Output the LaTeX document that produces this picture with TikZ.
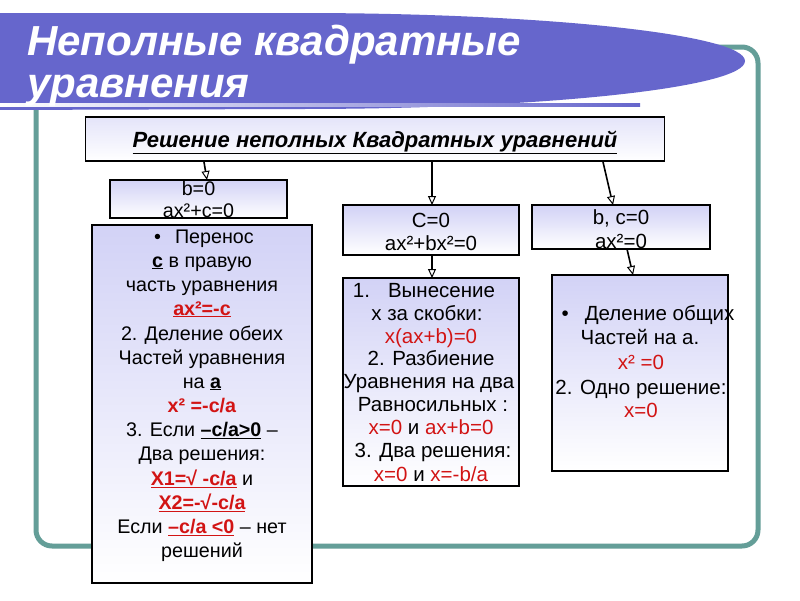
\documentclass[tikz,border=0pt]{standalone}
\usepackage{fontspec}
\setmainfont{Liberation Sans}
\usetikzlibrary{arrows.meta,calc}
\definecolor{ban}{RGB}{102,102,204}
\definecolor{frm}{RGB}{100,158,152}
\definecolor{lav}{RGB}{210,210,246}
\definecolor{rd}{RGB}{210,20,20}
\newcommand{\rb}[1]{{\color{rd}\textbf{#1}}}
\newcommand{\rbu}[1]{{\color{rd}\textbf{\underline{#1}}}}
\newcommand{\rr}[1]{{\color{rd}#1}}
\begin{document}
\begin{tikzpicture}[x=1pt,y=-1pt,
  box/.style={draw=black, line width=1.8pt, top color=lav, bottom color=white, inner sep=0pt, outer sep=0pt},
  tl/.style={anchor=base, inner sep=0pt, font=\fontsize{19.7}{22}\selectfont},
  tm/.style={anchor=base, inner sep=0pt, font=\fontsize{20.5}{22}\selectfont},
  arr/.style={draw=black, line width=1.6pt, -{Triangle[length=9pt,width=8pt,fill=white,line width=1pt]}}]
\useasboundingbox (0,0) rectangle (800,600);
\fill[white] (0,0) rectangle (800,600);
% frame
\draw[frm, line width=5pt, rounded corners=16pt] (36,47) rectangle (758,546);
% banner
\fill[ban] (-5,13) -- (300,13) arc[start angle=-90, end angle=90, x radius=445, y radius=48] -- (-5,110) -- cycle;
\shade[left color=white, right color=ban] (0,103.5) rectangle (640,106);
\node[anchor=base west, inner sep=0pt, text=white, font=\fontsize{42}{44}\selectfont\bfseries\itshape] (t1) at (27,55) {Неполные квадратные};
\node[anchor=base west, inner sep=0pt, text=white, font=\fontsize{42}{44}\selectfont\bfseries\itshape] (t2) at (27,97) {уравнения};
% header
\node[draw=black, line width=1.8pt, top color=lav!60, bottom color=white, inner sep=0pt, minimum width=579pt, minimum height=44pt] (hdr) at (375,139) {};
\node[anchor=base, inner sep=0pt, font=\fontsize{22}{24}\selectfont\bfseries\itshape] (hdrt) at (375,147) {\underline{Решение неполных Квадратных уравнений}};
% boxes
\node[box, minimum width=177pt, minimum height=38pt] (b0) at (198.5,199) {};
\node[box, minimum width=220pt, minimum height=358pt] (bx1) at (202,404) {};
\node[box, minimum width=176pt, minimum height=50pt] (c0) at (431,230) {};
\node[box, minimum width=176pt, minimum height=208pt] (bx2) at (431,382) {};
\node[box, minimum width=178pt, minimum height=44pt] (bc0) at (621,227) {};
\node[box, minimum width=176pt, minimum height=196pt] (bx3) at (640,373) {};
% texts b0
\node[tl] (b0a) at (198.5,195) {b=0};
\node[tl] (b0b) at (198.5,217) {ax²+c=0};
% box1
\node[tl] (p1) at (204,243) {•\hspace{14pt}Перенос};
\node[tl] (p2) at (202,267) {\textbf{\underline{с}} в правую};
\node[tl] (p3) at (202,291) {часть уравнения};
\node[tl] (p4) at (202,315) {\rbu{ax²=-c}};
\node[tl] (p5) at (202,340) {2. Деление обеих};
\node[tl] (p6) at (202,364) {Частей уравнения};
\node[tl] (p7) at (202,388) {на \textbf{\underline{а}}};
\node[tl] (p8) at (202,412) {\rb{x² =-c/a}};
\node[tl] (p9) at (202,436) {3. Если \textbf{\underline{–c/a>0}} –};
\node[tl] (p10) at (202,460) {Два решения:};
\node[tl] (p11) at (202,485) {\rbu{X1=√ -c/a} и};
\node[tl] (p12) at (202,509) {\rbu{X2=-√-c/a}};
\node[tl] (p13) at (202,533) {Если \rbu{–c/a <0} – нет};
\node[tl] (p14) at (202,557) {решений};
% c0
\node[tm] (c0a) at (431,227) {C=0};
\node[tm] (c0b) at (431,250) {ax²+bx²=0};
% box2
\node[tm] (q1) at (424,297) {1.\hspace{18pt}Вынесение};
\node[tm] (q2) at (427,320) {х за скобки:};
\node[tm] (q3) at (431,343) {\rr{x(ax+b)=0}};
\node[tm] (q4) at (431,365) {2. Разбиение};
\node[tm] (q5) at (429,388) {Уравнения на два};
\node[tm] (q6) at (433,411) {Равносильных :};
\node[tm] (q7) at (431,434) {\rr{x=0} и \rr{ax+b=0}};
\node[tm] (q8) at (433,457) {3. Два решения:};
\node[tm] (q9) at (431,481) {\rr{x=0} и \rr{x=-b/a}};
% bc0
\node[tm] (bc0a) at (621,224) {b, c=0};
\node[tm] (bc0b) at (621,248) {ax²=0};
% box3
\node[tm] (r1) at (648,320) {•\hspace{16pt}Деление общих};
\node[tm] (r2) at (640,344) {Частей на а.};
\node[tm] (r3) at (641,369) {\rr{x² =0}};
\node[tm] (r4) at (641,394) {2. Одно решение:};
\node[tm] (r5) at (641,417) {\rr{x=0}};
% borders on top
\foreach \n in {b0,bx1,c0,bx2,bc0,bx3}
  \draw[line width=1.8pt] (\n.north west) rectangle (\n.south east);
% arrows
\draw[arr] ([xshift=-171pt]hdr.south) -- ([xshift=8.5pt]b0.north);
\draw[arr] ([xshift=57pt]hdr.south) -- ([xshift=1pt]c0.north);
\draw[arr] ([xshift=228pt]hdr.south) -- ([xshift=-8pt]bc0.north);
\draw[arr] ([xshift=1pt]c0.south) -- ([xshift=1pt]bx2.north);
\draw[arr] ([xshift=6pt]bc0.south) -- ([xshift=-7pt]bx3.north);
\end{tikzpicture}
\end{document}
